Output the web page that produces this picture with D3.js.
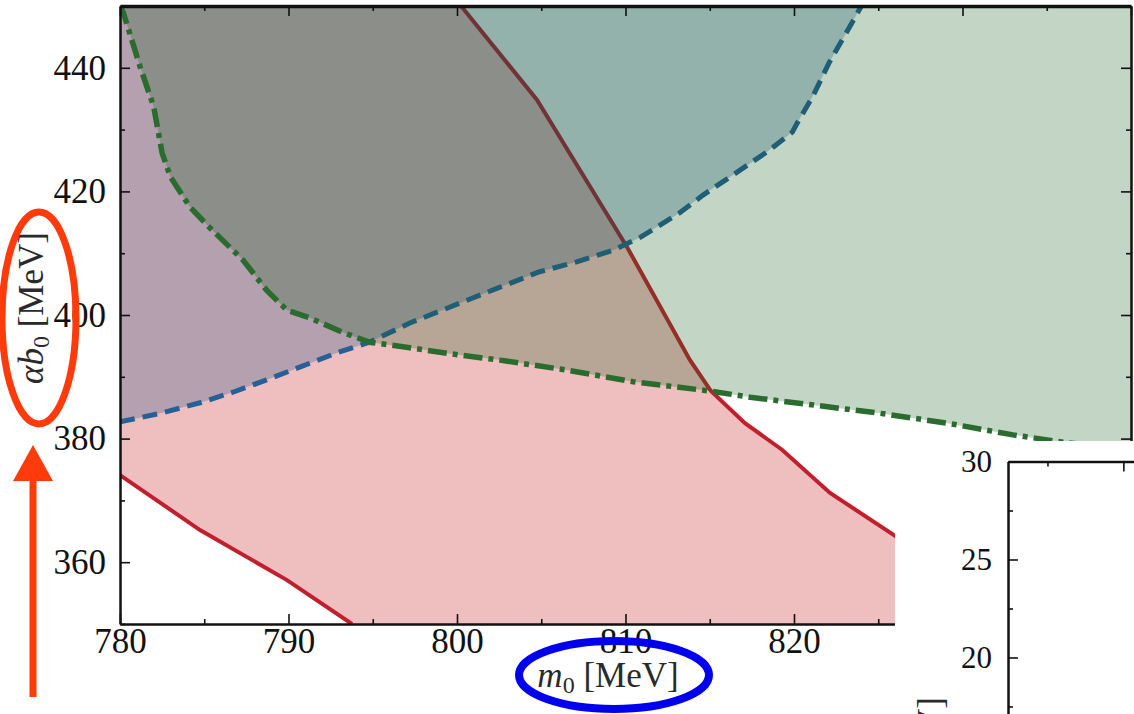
<!DOCTYPE html>
<html>
<head>
<meta charset="utf-8">
<script src="https://cdn.jsdelivr.net/npm/d3@7"></script>
<style>
  body { margin: 0; background: #fff; }
  svg { display: block; }
  text { font-family: "Liberation Serif", "DejaVu Serif", serif; }
</style>
</head>
<body>
<svg id="chart" width="1134" height="714"></svg>
<script>
// boundary curves, [m0, alpha*b0] in MeV
const redUpper = [[800.24, 450], [804.75, 434.8], [810.09, 411.0], [813.83, 392.7], [815.07, 387.7],
  [817.09, 382.5], [819.29, 378.2], [822.14, 371.2], [825.93, 364.4], [832.5, 350]];
const redLower = [[780, 374.1], [784.75, 365.2], [789.91, 357.1], [793.77, 350]];
const blueBound = [[780, 382.7], [782.4, 384.1], [784.75, 385.8], [786.7, 387.5], [788.7, 389.5],
  [790.7, 391.6], [792.9, 393.9], [794.8, 395.6], [797.2, 398.7], [802.55, 404.5], [804.9, 407.0],
  [807.1, 408.6], [809.3, 410.5], [810.9, 412.6], [813.2, 416.5], [814.6, 419.4], [816.4, 422.7],
  [818.4, 426.4], [819.9, 429.6], [820.2, 431.1], [821.1, 435.3], [822.1, 440.9], [823.3, 446.6], [824.0, 450]];
const greenBound = [[780, 450], [780.2, 448.9], [781.2, 440.1], [782.0, 433.7], [782.5, 426.2],
  [783.0, 422.3], [784.15, 417.5], [785.3, 414.2], [787.3, 408.9], [788.7, 404.0], [789.9, 400.8],
  [791.3, 399.5], [793.2, 397.2], [794.8, 395.6], [797.2, 394.7], [800.2, 393.5], [802.55, 392.7],
  [806.5, 391.1], [810.45, 389.2], [815.0, 387.7], [817.4, 386.7], [825.1, 384.1], [829.1, 382.5],
  [833.0, 380.6], [836.0, 379.4], [840, 378.2]];

const xMajor = [780, 790, 800, 810, 820, 830, 840];
const xLabelled = [780, 790, 800, 810, 820];   // the rest sit under the second panel
const xMinor = [785, 795, 805, 815, 825, 835];
const yMajor = [360, 380, 400, 420, 440];
const yMinor = [350, 370, 390, 410, 430, 450];

// second panel, only its corner is visible
const insetYMajor = [20, 25, 30];
const insetYMinor = [17.5, 22.5, 27.5];
const insetXMajor = [800];
const insetXMinor = [795];

const svg = d3.select('#chart');

const x = d3.scaleLinear().domain([780, 840]).range([120, 1131]);
const y = d3.scaleLinear().domain([350, 450]).range([624, 6]);

const line = d3.line().x(d => x(d[0])).y(d => y(d[1]));
const [x0, x1] = x.domain();
const [y0, y1] = y.domain();

svg.append('defs').append('clipPath').attr('id', 'plotClip')
  .append('rect')
  .attr('x', x(x0)).attr('y', y(y1))
  .attr('width', x(x1) - x(x0)).attr('height', y(y0) - y(y1));

const plot = svg.append('g').attr('clip-path', 'url(#plotClip)');

// red band
const pinkPoly = [[x0, y1], ...redUpper, ...redLower.slice().reverse()];
plot.append('path').attr('d', line(pinkPoly) + 'Z')
  .attr('fill', 'rgb(190,0,5)').attr('fill-opacity', 0.25);
[redUpper, redLower].forEach(c => {
  plot.append('path').attr('d', line(c))
    .attr('fill', 'none').attr('stroke', 'rgb(192,32,45)').attr('stroke-width', 4);
});

// blue region
const bluePoly = [...blueBound, [x0, y1]];
plot.append('path').attr('d', line(bluePoly) + 'Z')
  .attr('fill', 'rgb(5,67,123)').attr('fill-opacity', 0.25);
plot.append('path').attr('d', line(blueBound))
  .attr('fill', 'none').attr('stroke', 'rgb(38,96,150)').attr('stroke-width', 5)
  .attr('stroke-dasharray', '15,8');

// green region
const greenPoly = [...greenBound, [x1, y1]];
plot.append('path').attr('d', line(greenPoly) + 'Z')
  .attr('fill', 'rgb(15,87,23)').attr('fill-opacity', 0.25);
plot.append('path').attr('d', line(greenBound))
  .attr('fill', 'none').attr('stroke', 'rgb(42,108,46)').attr('stroke-width', 5.5)
  .attr('stroke-dasharray', '19,6,5,6');

// axes
function styleAxis(g, size) {
  g.attr('font-size', size).attr('font-family', '"Liberation Serif", serif');
  g.select('.domain').attr('stroke', '#111').attr('stroke-width', 2.5);
  g.selectAll('.tick line').attr('stroke', '#111').attr('stroke-width', 1.6);
  g.selectAll('.tick text').attr('fill', '#111');
}

const axes = svg.append('g');
const axBottom = axes.append('g').attr('transform', `translate(0,${y(y0)})`)
  .call(d3.axisBottom(x).tickValues(xMajor).tickSizeInner(-10).tickSizeOuter(0).tickPadding(4)
    .tickFormat(d => xLabelled.includes(d) ? d3.format('d')(d) : ''));
styleAxis(axBottom, 35);
axes.append('g').attr('transform', `translate(0,${y(y0)})`)
  .call(d3.axisBottom(x).tickValues(xMinor).tickSize(-5).tickFormat(''))
  .call(g => styleAxis(g, 35)).select('.domain').remove();

const axTop = axes.append('g').attr('transform', `translate(0,${y(y1)})`)
  .call(d3.axisTop(x).tickValues(xMajor).tickSizeInner(-10).tickSizeOuter(0).tickFormat(''));
styleAxis(axTop, 35);
axTop.select('.domain').attr('stroke-width', 3.5);
axes.append('g').attr('transform', `translate(0,${y(y1)})`)
  .call(d3.axisTop(x).tickValues(xMinor).tickSize(-5).tickFormat(''))
  .call(g => styleAxis(g, 35)).select('.domain').remove();

const axLeft = axes.append('g').attr('transform', `translate(${x(x0)},0)`)
  .call(d3.axisLeft(y).tickValues(yMajor).tickSizeInner(-10).tickSizeOuter(0).tickPadding(14));
styleAxis(axLeft, 35);
axes.append('g').attr('transform', `translate(${x(x0)},0)`)
  .call(d3.axisLeft(y).tickValues(yMinor).tickSize(-5).tickFormat(''))
  .call(g => styleAxis(g, 35)).select('.domain').remove();

const axRight = axes.append('g').attr('transform', `translate(${x(x1)},0)`)
  .call(d3.axisRight(y).tickValues(yMajor).tickSizeInner(-10).tickSizeOuter(0).tickFormat(''));
styleAxis(axRight, 35);
axes.append('g').attr('transform', `translate(${x(x1)},0)`)
  .call(d3.axisRight(y).tickValues(yMinor).tickSize(-5).tickFormat(''))
  .call(g => styleAxis(g, 35)).select('.domain').remove();

// axis titles
const xt = svg.append('text').attr('x', 608).attr('y', 687)
  .attr('text-anchor', 'middle').attr('font-size', 35).attr('fill', '#2a2a2a');
xt.append('tspan').attr('font-style', 'italic').text('m');
xt.append('tspan').attr('font-size', 24).attr('dy', 6).text('0');
xt.append('tspan').attr('dy', -6).text(' [MeV]');

const yt = svg.append('text').attr('transform', 'translate(43,308) rotate(-90)')
  .attr('text-anchor', 'middle').attr('font-size', 35).attr('fill', '#2a2a2a');
yt.append('tspan').attr('font-style', 'italic').text('αb');
yt.append('tspan').attr('font-size', 24).attr('dy', 6).text('0');
yt.append('tspan').attr('dy', -6).text(' [MeV]');

// overlapping second panel (white page piece)
const insetX = d3.scaleLinear().domain([792.4, 800.7]).range([1008, 1134]);
const insetY = d3.scaleLinear().domain([16.3, 30]).range([730, 461.5]);

svg.append('rect').attr('x', 895).attr('y', 441).attr('width', 239).attr('height', 273).attr('fill', '#fff');

const inset = svg.append('g');
const iLeft = inset.append('g').attr('transform', `translate(${insetX.range()[0]},0)`)
  .call(d3.axisLeft(insetY).tickValues(insetYMajor).tickSizeInner(-10).tickSizeOuter(0).tickPadding(16));
styleAxis(iLeft, 31);
inset.append('g').attr('transform', `translate(${insetX.range()[0]},0)`)
  .call(d3.axisLeft(insetY).tickValues(insetYMinor).tickSize(-5).tickFormat(''))
  .call(g => styleAxis(g, 31)).select('.domain').remove();
const iTop = inset.append('g').attr('transform', `translate(0,${insetY.range()[1]})`)
  .call(d3.axisTop(insetX).tickValues(insetXMajor).tickSizeInner(-10).tickSizeOuter(0).tickFormat(''));
styleAxis(iTop, 31);
inset.append('g').attr('transform', `translate(0,${insetY.range()[1]})`)
  .call(d3.axisTop(insetX).tickValues(insetXMinor).tickSize(-5).tickFormat(''))
  .call(g => styleAxis(g, 31)).select('.domain').remove();

inset.append('text').attr('transform', 'translate(942,697) rotate(-90)')
  .attr('text-anchor', 'end').attr('font-size', 35).attr('fill', '#2a2a2a').text('[MeV]');

// highlight marks
const hl = svg.append('g').attr('fill', 'none');
hl.append('ellipse').attr('cx', 39).attr('cy', 318).attr('rx', 37).attr('ry', 106)
  .attr('stroke', '#ff3b0b').attr('stroke-width', 7);
hl.append('line').attr('x1', 33).attr('x2', 33).attr('y1', 697).attr('y2', 478)
  .attr('stroke', '#ff3b0b').attr('stroke-width', 7);
hl.append('path').attr('d', 'M13,481L53,481L33,445Z').attr('fill', '#ff3b0b');
hl.append('ellipse').attr('cx', 614).attr('cy', 675).attr('rx', 95).attr('ry', 34)
  .attr('stroke', '#0000ee').attr('stroke-width', 8);
</script>
</body>
</html>
